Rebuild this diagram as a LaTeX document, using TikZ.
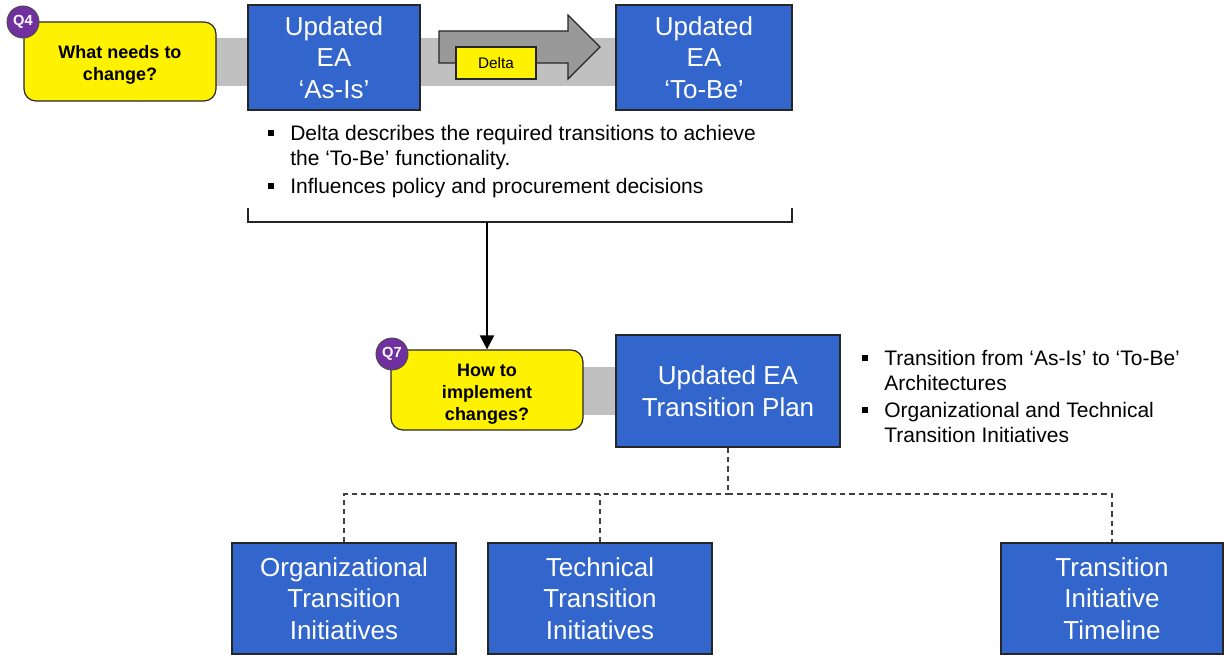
\documentclass[tikz,border=0pt]{standalone}
\usepackage{fontspec}
\setmainfont{Liberation Sans}
\usetikzlibrary{arrows.meta}
\definecolor{eablue}{HTML}{3366CC}
\definecolor{bandgray}{HTML}{C0C0C0}
\definecolor{arrgray}{HTML}{999999}
\definecolor{qpurple}{HTML}{7030A0}
\newcommand\sqb{\raisebox{0.2em}{\rule{4.5pt}{4.5pt}}}
\begin{document}
\begin{tikzpicture}[x=0.75pt,y=-0.75pt,
  bluebox/.style={draw=black!85, line width=0.9pt, fill=eablue, text=white, align=center,
    font=\fontsize{19.5}{23.6}\selectfont, inner sep=0pt},
  qbox/.style={draw=black!85, line width=0.9pt, fill=yellow, rounded corners=9pt, align=center,
    font=\bfseries\fontsize{13.5}{16.5}\selectfont, inner sep=0pt, minimum width=144pt},
  qcircle/.style={circle, fill=qpurple, draw=black!70, line width=0.7pt, text=white,
    font=\bfseries\fontsize{11}{13}\selectfont, minimum size=24pt, inner sep=0pt},
  bullettext/.style={font=\fontsize{15.75}{18.4}\selectfont, align=left, anchor=north west, inner sep=0pt},
  dashconn/.style={draw=black!75, line width=1.1pt, dash pattern=on 4pt off 3pt},
]
\useasboundingbox (0,0) rectangle (1224,655);

% grey bands
\fill[bandgray] (216,38) rectangle (616,86);
\fill[bandgray] (583,367) rectangle (616,415);

% top row
\node[qbox, minimum height=59.25pt] (q4) at (120,61.5) {\rule{0pt}{14.4pt}What needs to\\change?};
\node[qcircle] (q4c) at (23,22) {Q4};
\node[bluebox, minimum width=129pt, minimum height=78.75pt] (asis) at (334,57.5) {Updated\\EA\\‘As-Is’};
\node[bluebox, minimum width=132pt, minimum height=78.75pt] (tobe) at (704,57.5) {Updated\\EA\\‘To-Be’};

% delta arrow
\draw[fill=arrgray, draw=black!85, line width=0.9pt]
  (439,31) -- (568,31) -- (568,15) -- (600,47) -- (568,79) -- (568,63) -- (439,63) -- cycle;
\node[draw=black!85, line width=0.9pt, fill=yellow, minimum width=60pt, minimum height=24pt,
  inner sep=0pt, font=\fontsize{11.5}{13}\selectfont] (delta) at (496,63) {Delta};

% bullets under top row
\node[bullettext] (b1) at (290,125) {\llap{\sqb\hspace{12pt}}Delta describes the required transitions to achieve\\the ‘To-Be’ functionality.};
\node[bullettext] (b2) at (290,178) {\llap{\sqb\hspace{12pt}}Influences policy and procurement decisions};

% bracket and arrow
\draw[black!85, line width=0.8pt] (248,208) -- (248,222) -- (792,222) -- (792,208);
\coordinate (br) at (487,222);

% middle row
\node[qbox, minimum height=60pt] (q7) at (487,390) {\rule{0pt}{15.9pt}How to\\implement\\changes?};
\node[qcircle] (q7c) at (392,354) {Q7};
\node[bluebox, minimum width=168pt, minimum height=84pt] (plan) at (728,391) {Updated EA\\Transition Plan};
\draw[line width=1.5pt, -{Triangle[length=10.5pt,width=10.5pt]}] (br) -- (q7.north);

\node[bullettext] (b3) at (884,350) {\llap{\sqb\hspace{12pt}}Transition from ‘As-Is’ to ‘To-Be’\\Architectures};
\node[bullettext] (b4) at (884,402) {\llap{\sqb\hspace{12pt}}Organizational and Technical\\Transition Initiatives};

% bottom row
\node[bluebox, minimum width=168pt, minimum height=83.25pt] (org) at (344,598.5) {Organizational\\Transition\\Initiatives};
\node[bluebox, minimum width=168pt, minimum height=83.25pt] (tech) at (600,598.5) {Technical\\Transition\\Initiatives};
\node[bluebox, minimum width=166.5pt, minimum height=83.25pt] (time) at (1112,598.5) {Transition\\Initiative\\Timeline};

\coordinate (hub) at (728,494);
\draw[dashconn] (plan.south) -- (hub);
\draw[dashconn] (org.north) |- (hub);
\draw[dashconn] (hub) -| (time.north);
\draw[dashconn] (tech.north) -- (tech.north |- hub);
\end{tikzpicture}
\end{document}
